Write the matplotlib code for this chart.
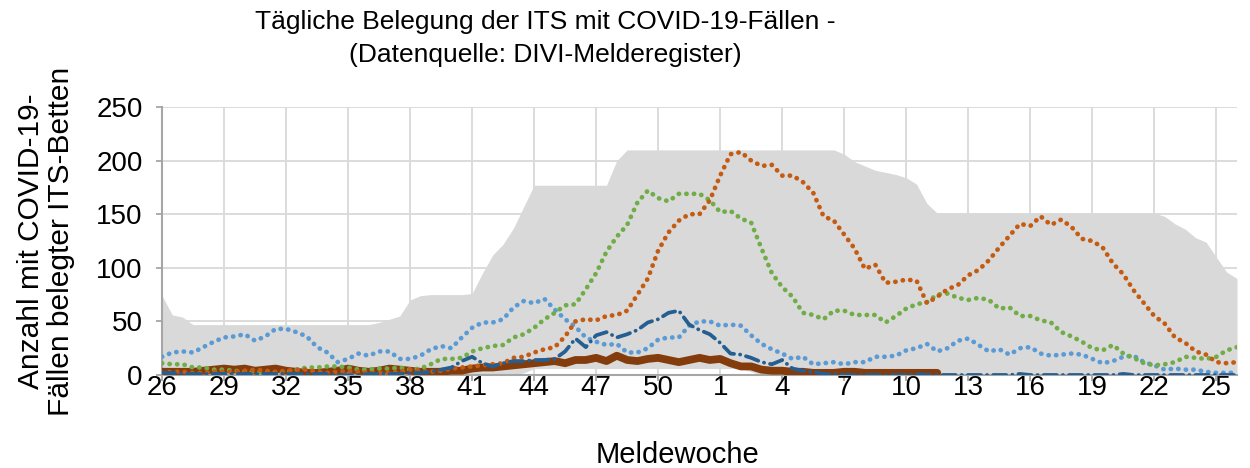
"""
Tägliche Belegung der ITS mit COVID-19-Fällen (DIVI-Melderegister).
Werte sind aus der Vorlage abgelesen, jeweils im Abstand einer halben Woche.
"""

import numpy as np
import matplotlib
matplotlib.use("Agg")
import matplotlib.pyplot as plt

# Beschriftung der x-Achse: jede dritte Meldewoche
week_labels = [26, 29, 32, 35, 38, 41, 44, 47, 50, 1, 4, 7, 10, 13, 16, 19, 22, 25]

# grauer Bereich (Minimum bis Maximum)
band_max = [74, 56, 54, 47, 47, 47, 47, 47, 47, 47,
            47, 47, 47, 47, 47, 47, 47, 47, 47, 47,
            47, 49, 52, 55, 70, 74, 75, 75, 75, 75,
            76, 95, 112, 122, 137, 157, 177, 177, 177, 177,
            177, 177, 177, 177, 200, 210, 210, 210, 210, 210,
            210, 210, 210, 210, 210, 210, 210, 210, 210, 210,
            210, 210, 210, 210, 210, 210, 206, 199, 195, 191,
            189, 187, 184, 178, 160, 151, 151, 151, 151, 151,
            151, 151, 151, 151, 151, 151, 151, 151, 151, 151,
            151, 151, 151, 151, 151, 151, 151, 148, 141, 136,
            128, 124, 110, 96, 90]
band_min = [0, 0, 0, 0, 0, 0, 0, 0, 0, 0,
            0, 0, 0, 0, 0, 0, 0, 0, 0, 0,
            0, 0, 0, 0, 0, 0, 0, 0, 0, 0,
            0, 0, 0, 0, 0, 2, 6, 6, 6, 6,
            6, 6, 6, 6, 6, 6, 6, 6, 6, 6,
            6, 6, 6, 6, 6, 6, 6, 3, 0, 0,
            0, 0, 0, 0, 0, 0, 0, 0, 0, 0,
            0, 0, 0, 0, 0, 0, 0, 0, 0, 0,
            0, 0, 0, 0, 0, 0, 0, 0, 0, 0,
            0, 0, 0, 0, 0, 0, 0, 0, 0, 0,
            0, 0, 0, 0, 0]

light_blue = [17, 21, 22, 21, 26, 31, 35, 36, 38, 32,
              36, 43, 43, 40, 36, 26, 21, 12, 15, 20,
              18, 22, 22, 15, 15, 18, 24, 27, 25, 35,
              44, 49, 49, 52, 63, 69, 67, 71, 61, 52,
              45, 35, 31, 28, 29, 21, 21, 25, 33, 35,
              35, 46, 50, 50, 46, 47, 46, 37, 29, 24,
              20, 15, 17, 10, 11, 12, 10, 12, 12, 17,
              17, 18, 23, 25, 29, 22, 25, 32, 34, 28,
              22, 24, 19, 25, 26, 20, 18, 19, 20, 19,
              15, 11, 13, 17, 18, 12, 9, 5, 6, 5,
              5, 3, 2, 2, 2]

green = [11, 10, 10, 7, 7, 5, 5, 4, 3, 3,
         2, 2, 3, 5, 7, 7, 8, 8, 7, 5,
         5, 6, 6, 7, 5, 6, 10, 15, 15, 16,
         22, 25, 27, 28, 35, 38, 44, 52, 58, 65,
         66, 80, 95, 115, 129, 140, 161, 172, 165, 162,
         169, 169, 169, 163, 152, 153, 146, 142, 118, 95,
         82, 73, 58, 56, 52, 60, 60, 56, 56, 56,
         49, 55, 62, 66, 68, 75, 76, 72, 70, 72,
         70, 62, 63, 55, 55, 51, 49, 40, 36, 31,
         25, 23, 28, 20, 16, 11, 9, 10, 12, 17,
         16, 15, 17, 23, 26]

orange = [2, 3, 3, 2, 2, 3, 3, 3, 4, 5,
          4, 3, 4, 5, 5, 3, 2, 3, 4, 3,
          2, 2, 2, 3, 5, 4, 3, 4, 6, 7,
          8, 9, 10, 11, 16, 17, 21, 24, 26, 36,
          50, 52, 51, 55, 56, 60, 75, 90, 116, 133,
          144, 150, 150, 163, 186, 206, 208, 200, 195, 196,
          186, 186, 180, 170, 148, 144, 131, 118, 99, 103,
          86, 87, 89, 88, 67, 73, 80, 84, 93, 98,
          107, 119, 130, 141, 139, 148, 140, 145, 138, 127,
          125, 119, 104, 94, 79, 67, 55, 48, 35, 30,
          22, 19, 12, 11, 12]

dark_blue = [2, 2, 1, 1, 1, 1, 1, 1, 1, 1,
             1, 1, 1, 1, 1, 1, 1, 0, 0, 0,
             1, 1, 1, 1, 2, 2, 3, 5, 7, 13,
             17, 11, 8, 11, 13, 13, 14, 14, 15, 22,
             34, 26, 37, 40, 35, 38, 42, 49, 52, 58,
             60, 47, 42, 38, 30, 20, 19, 16, 12, 10,
             14, 6, 4, 3, 1, 1, 0, 0, 0, 0,
             0, 0, 0, 1, 0, 0, 0, 0, 0, 0,
             0, 0, 0, 1, 0, 0, 0, 0, 0, 0,
             0, 0, 0, 1, 0, 0, 0, 0, 0, 0,
             0, 0, 0, 0, 0]

# endet etwa bei Meldewoche 12
brown = [3, 3, 3, 3, 4, 5, 6, 5, 6, 4,
         5, 6, 4, 3, 2, 2, 3, 4, 6, 4,
         3, 4, 6, 5, 4, 3, 3, 3, 4, 4,
         6, 7, 7, 8, 9, 10, 11, 12, 13, 11,
         14, 14, 16, 13, 18, 14, 13, 15, 16, 14,
         12, 14, 16, 14, 15, 11, 8, 8, 5, 4,
         4, 3, 3, 2, 2, 2, 3, 3, 2, 2,
         2, 2, 2, 2, 2, 2]

plt.rcParams["font.family"] = ["Liberation Sans", "DejaVu Sans"]

fig = plt.figure(figsize=(12.5, 4.68), dpi=100)
ax = fig.add_axes([162 / 1250, 1 - 375 / 468, 1075 / 1250, 268 / 468])

# x in Wochen ab Meldewoche 26
x = np.arange(len(band_max)) / 2

ax.fill_between(x, band_min, band_max, color="#D9D9D9", lw=0, zorder=1)

ax.plot(x[:len(brown)], brown, color="#843C0C", lw=5.6,
        solid_capstyle="round", solid_joinstyle="round", zorder=3)

dotted = (0, (0.05, 1.55))
ax.plot(x, light_blue, color="#5B9BD5", lw=3.4, ls=dotted,
        dash_capstyle="round", zorder=4)
ax.plot(x, green, color="#70AD47", lw=3.4, ls=dotted,
        dash_capstyle="round", zorder=4)
ax.plot(x, orange, color="#C55A11", lw=3.4, ls=dotted,
        dash_capstyle="round", zorder=4)
ax.plot(x, dark_blue, color="#255E91", lw=2.7, ls=(0, (3.5, 1.6, 0.05, 1.6)),
        dash_capstyle="round", zorder=5)

# Achsen im Excel-Stil
ax.set_xlim(0, 52)
ax.set_ylim(0, 250)
ax.set_yticks(np.arange(0, 251, 50))
ax.set_xticks(np.arange(0, 52, 3))
ax.set_xticklabels(week_labels)

ax.grid(color="#D9D9D9", lw=1.3)
ax.set_axisbelow(True)
for side in ["top", "right"]:
    ax.spines[side].set_visible(False)
for side in ["left", "bottom"]:
    ax.spines[side].set_color("#A6A6A6")
    ax.spines[side].set_linewidth(1.5)
    ax.spines[side].set_zorder(2)

ax.tick_params(axis="both", colors="#A6A6A6", labelcolor="black",
               labelsize=20, length=4, width=1.3)
ax.tick_params(axis="x", pad=-4)
ax.tick_params(axis="y", pad=10)

fig.text(545 / 1250, 1 - 22 / 468, "Tägliche Belegung der ITS mit COVID-19-Fällen -",
         ha="center", va="center", fontsize=19)
fig.text(545 / 1250, 1 - 55 / 468, "(Datenquelle: DIVI-Melderegister)",
         ha="center", va="center", fontsize=19)
fig.text(46 / 1250, 1 - 241 / 468, "Anzahl mit COVID-19-\nFällen belegter ITS-Betten",
         rotation=90, ha="center", va="center", ma="center", fontsize=21.5,
         linespacing=1.1)
fig.text(678 / 1250, 1 - 455 / 468, "Meldewoche", ha="center", va="center",
         fontsize=21)

fig.savefig("out.png", dpi=100)
